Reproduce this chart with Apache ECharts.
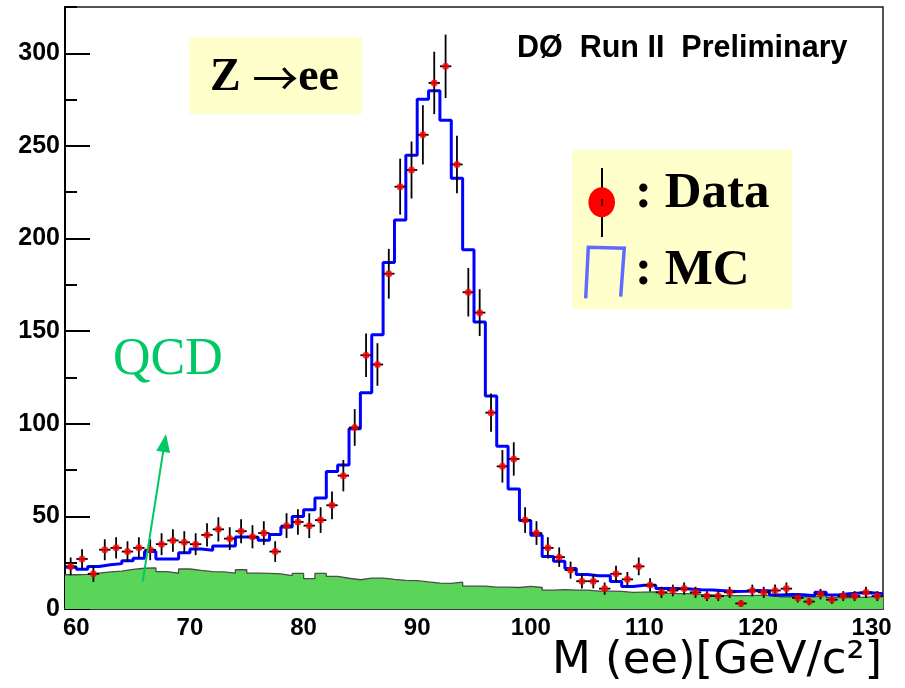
<!DOCTYPE html>
<html>
<head>
<meta charset="utf-8">
<title>Z → ee invariant mass</title>
<script src="https://cdn.jsdelivr.net/npm/echarts@6/dist/echarts.min.js"></script>
<style>
  html, body { margin: 0; padding: 0; background: #ffffff; }
  #chart { width: 905px; height: 688px; }
</style>
</head>
<body>
<div id="chart"></div>
<script>
// Di-electron invariant mass, 1 GeV bins from 59 to 131 GeV/c^2
const binLowEdge = 59;
const binWidth = 1;

// Observed events per bin
const dataCounts = [
  23, 27, 19, 32, 33, 31, 33, 32, 35, 37,
  36, 35, 40, 43, 38, 42, 39, 41, 31, 45,
  47, 45, 48, 56, 72, 98, 137, 132, 181, 228,
  237, 256, 284, 293, 240, 171, 160, 106, 77, 81,
  48, 41, 33, 28, 21, 15, 15, 11, 19, 16,
  23, 13, 9, 10, 11, 9, 7, 7, 9, 3,
  10, 9, 10, 11, 6, 4, 8, 5, 7, 7,
  9, 7
];

// Monte Carlo prediction (signal + background) per bin
const mcCounts = [
  22.5, 21.4, 22.9, 23.9, 24.5, 26.1, 27.4, 31.0, 27.0, 27.0,
  30.4, 32.4, 31.7, 34.0, 34.0, 38.9, 38.8, 37.1, 40.2, 44.3,
  50.0, 53.6, 59.9, 74.2, 77.8, 97.3, 116.8, 148.1, 187.0, 210.0,
  245.0, 275.2, 279.8, 263.8, 232.5, 194.0, 155.0, 115.0, 87.8, 64.8,
  47.8, 39.8, 28.4, 25.8, 21.8, 18.6, 18.0, 18.0, 14.9, 12.2,
  12.8, 12.8, 11.0, 11.0, 10.8, 10.4, 10.2, 9.8, 9.4, 9.6,
  10.0, 9.8, 7.6, 7.8, 7.7, 7.2, 9.0, 7.6, 8.3, 8.6,
  8.8, 8.3
];

// QCD background per bin
const qcdCounts = [
  18.5, 18.7, 19.4, 20.0, 20.5, 21.4, 22.0, 22.2, 20.2, 19.3,
  21.6, 20.8, 20.2, 20.0, 19.4, 21.2, 19.4, 19.2, 19.0, 18.0,
  19.2, 16.4, 19.2, 17.6, 16.6, 15.8, 16.7, 16.7, 16.0, 15.5,
  15.3, 14.6, 14.0, 13.8, 14.5, 12.4, 12.4, 11.8, 11.8, 11.6,
  12.2, 11.6, 10.2, 10.5, 10.2, 10.2, 9.7, 9.6, 9.5, 9.0,
  9.1, 9.2, 8.6, 8.3, 8.3, 7.9, 7.6, 7.2, 7.2, 7.2,
  7.4, 7.4, 6.6, 6.6, 6.6, 6.6, 7.3, 6.1, 6.1, 6.3,
  6.5, 6.7
];

// Axis ticks
const xTickLabels = [60, 70, 80, 90, 100, 110, 120, 130];
const yTickLabels = [0, 50, 100, 150, 200, 250, 300];
const yMinorTicks = [25, 75, 125, 175, 225, 275, 325];

const nBins = dataCounts.length;
const binEdges = [];
for (let i = 0; i <= nBins; i++) binEdges.push(binLowEdge + i * binWidth);
const xMin = binEdges[0];
const xMax = binEdges[nBins];

// Histogram outline: one point per bin low edge, closed at the last high edge
function histogramPoints(counts) {
  const pts = counts.map((c, i) => [binEdges[i], c]);
  pts.push([binEdges[nBins], counts[nBins - 1]]);
  return pts;
}

const dataPoints = dataCounts.map((c, i) => [binEdges[i] + binWidth / 2, c]);
const dataErrors = dataCounts.map((c, i) => [binEdges[i] + binWidth / 2, c, Math.sqrt(c), binWidth / 2]);

const chart = echarts.init(document.getElementById('chart'), null, { renderer: 'canvas' });

const sansBold = '"Liberation Sans", Arial, sans-serif';
const serif = '"Liberation Serif", "Times New Roman", serif';

const option = {
  animation: false,
  backgroundColor: '#ffffff',
  grid: {
    left: 65, right: 22, top: 7, bottom: 79,
    show: true, borderColor: '#1a1a1a', borderWidth: 1.5, backgroundColor: 'transparent'
  },
  xAxis: {
    type: 'value', min: xMin, max: xMax,
    axisLine: { show: true, onZero: false, lineStyle: { color: '#3a3a3a', width: 2 } },
    axisTick: { show: false },
    splitLine: { show: false },
    axisLabel: { customValues: xTickLabels, margin: 7, fontFamily: sansBold, fontWeight: 'bold', fontSize: 24, color: '#000' }
  },
  yAxis: [
    {
      type: 'value', min: 0, max: 325,
      axisLine: { show: true, lineStyle: { color: '#000', width: 2 } },
      axisTick: { show: true, inside: true, length: 25, customValues: yTickLabels, lineStyle: { color: '#000', width: 2 } },
      splitLine: { show: false },
      axisLabel: { customValues: yTickLabels, margin: 5, fontFamily: sansBold, fontWeight: 'bold', fontSize: 25, color: '#000' }
    },
    {
      type: 'value', min: 0, max: 325, position: 'left',
      axisLine: { show: false },
      axisTick: { show: true, inside: true, length: 12, customValues: yMinorTicks, lineStyle: { color: '#000', width: 2 } },
      splitLine: { show: false },
      axisLabel: { show: false }
    }
  ],
  series: [
    {
      name: 'QCD', type: 'line', step: 'end', symbol: 'none',
      data: histogramPoints(qcdCounts),
      lineStyle: { color: '#4d4d4d', width: 1.3 },
      areaStyle: { color: '#5ad55a', opacity: 1 },
      z: 1
    },
    {
      name: 'MC', type: 'line', step: 'end', symbol: 'none',
      data: histogramPoints(mcCounts),
      lineStyle: { color: '#0000ff', width: 3 },
      z: 3
    },
    {
      name: 'Data errors', type: 'custom',
      data: dataErrors,
      encode: { x: 0, y: 1 },
      renderItem: function (params, api) {
        const x = api.value(0), y = api.value(1), err = api.value(2), hw = api.value(3);
        const top = api.coord([x, y + err]);
        const bottom = api.coord([x, Math.max(0, y - err)]);
        const left = api.coord([x - hw, y]);
        const right = api.coord([x + hw, y]);
        return {
          type: 'group',
          children: [
            { type: 'line', shape: { x1: top[0], y1: top[1], x2: bottom[0], y2: bottom[1] }, style: { stroke: '#000', lineWidth: 1.8 } },
            { type: 'line', shape: { x1: left[0], y1: left[1], x2: right[0], y2: right[1] }, style: { stroke: '#000', lineWidth: 1.8 } }
          ]
        };
      },
      z: 4
    },
    {
      name: 'Data', type: 'scatter', symbol: 'circle', symbolSize: 7,
      data: dataPoints,
      itemStyle: { color: '#ff0000' },
      z: 5
    }
  ],
  graphic: [
    // Process label
    { type: 'rect', z: 100, shape: { x: 189, y: 37, width: 173, height: 77 }, style: { fill: '#ffffcc' } },
    {
      type: 'text', z: 101, x: 210, y: 78,
      style: {
        text: '{z|Z }{a|→}{e|ee}',
        verticalAlign: 'middle',
        rich: {
          z: { fontFamily: serif, fontWeight: 'bold', fontSize: 46, fill: '#000', verticalAlign: 'middle' },
          a: { fontFamily: '"Noto Sans CJK SC", "DejaVu Sans", sans-serif', fontWeight: 'normal', fontSize: 46, fill: '#000', verticalAlign: 'middle' },
          e: { fontFamily: serif, fontWeight: 'bold', fontSize: 46, fill: '#000', verticalAlign: 'middle' }
        }
      }
    },

    // Experiment label
    { type: 'text', z: 101, x: 517, y: 49, style: { text: 'DØ  Run II  Preliminary', font: 'bold 30.5px ' + sansBold, fill: '#000', verticalAlign: 'middle' } },

    // Legend
    { type: 'rect', z: 100, shape: { x: 572, y: 150, width: 220, height: 159 }, style: { fill: '#ffffcc' } },
    { type: 'line', z: 101, shape: { x1: 602, y1: 168, x2: 602, y2: 237 }, style: { stroke: '#000', lineWidth: 2 } },
    { type: 'ellipse', z: 102, shape: { cx: 601.7, cy: 202.3, rx: 13.3, ry: 15 }, style: { fill: '#ff0000' } },
    { type: 'line', z: 103, shape: { x1: 602, y1: 199, x2: 602, y2: 206 }, style: { stroke: '#000', lineWidth: 1.5 } },
    { type: 'text', z: 101, x: 635, y: 194, style: { text: ': Data', font: 'bold 51px ' + serif, fill: '#000', verticalAlign: 'middle' } },
    { type: 'polyline', z: 101, shape: { points: [[585.7, 298.3], [588.3, 247.3], [624.3, 248.3], [620.7, 296.7]] }, style: { stroke: '#5f6bff', lineWidth: 3.5, fill: null } },
    { type: 'text', z: 101, x: 635, y: 270.5, style: { text: ': MC', font: 'bold 51px ' + serif, fill: '#000', verticalAlign: 'middle' } },

    // QCD annotation with arrow
    { type: 'text', z: 101, x: 113, y: 360.6, style: { text: 'QCD', font: '52px ' + serif, fill: '#00c864', verticalAlign: 'middle' } },
    { type: 'line', z: 101, shape: { x1: 142.7, y1: 581.7, x2: 163.5, y2: 449.5 }, style: { stroke: '#00c864', lineWidth: 2 } },
    { type: 'polygon', z: 101, shape: { points: [[166, 434], [170.1, 452.9], [156.3, 450.7]] }, style: { fill: '#00c864' } },

    // Mass axis title
    { type: 'text', z: 101, x: 882, y: 661, style: { text: 'M (ee)[GeV/c²]', font: '45px "DejaVu Sans", sans-serif', fill: '#000', align: 'right', verticalAlign: 'middle' } }
  ]
};

chart.setOption(option);
</script>
</body>
</html>
